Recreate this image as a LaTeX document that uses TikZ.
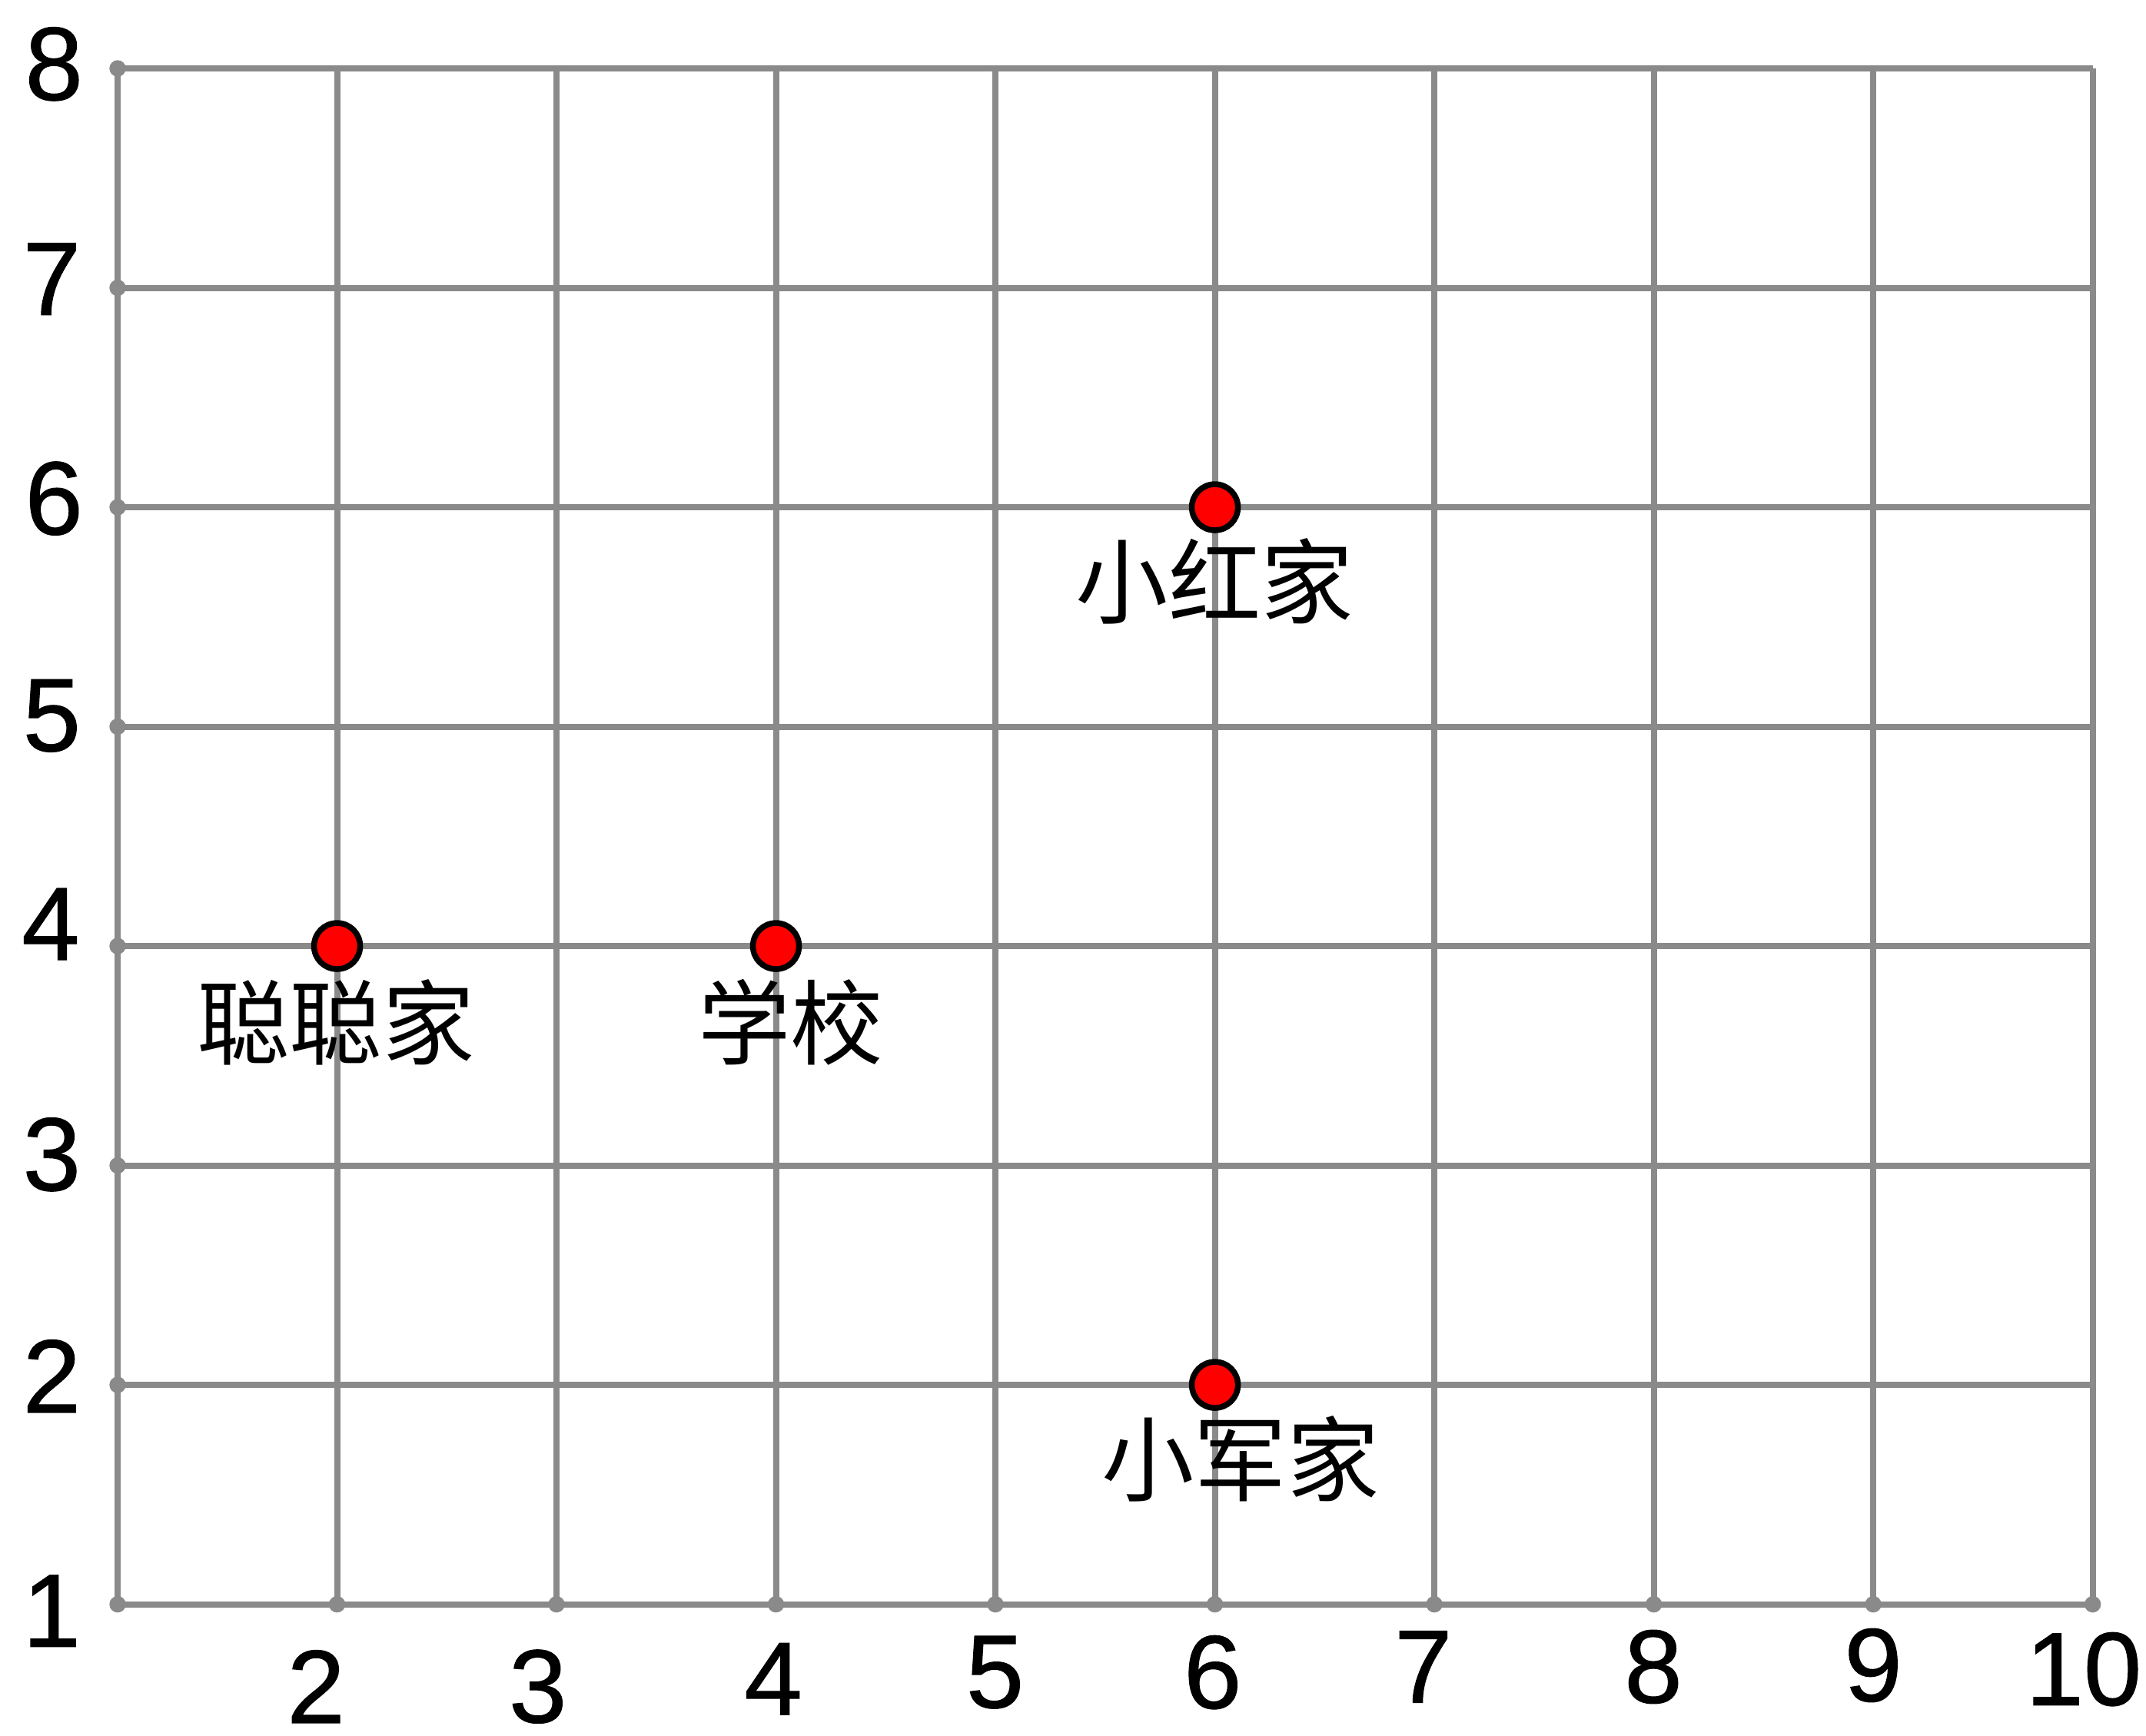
\documentclass[tikz,border=0pt]{standalone}
\usepackage{fontspec}
\setmainfont{Liberation Sans}
\newfontfamily\digitfont[FakeBold=0.8]{Liberation Sans}
\newfontfamily\cjk{Noto Sans CJK SC}
\definecolor{gridgray}{HTML}{8A8A8A}
\definecolor{dotred}{HTML}{FF0000}
\begin{document}
\begin{tikzpicture}[
  gridline/.style={draw=gridgray, line width=0.8pt},
  tickdot/.style={circle, fill=gridgray, inner sep=0pt, minimum size=0.75mm},
  place/.style={circle, draw=black, fill=dotred, line width=0.75pt, inner sep=0pt, minimum size=2.1mm},
  axlabel/.style={font=\digitfont\fontsize{13.5}{13.5}\selectfont, inner sep=0pt},
  placelabel/.style={font=\cjk\fontsize{12}{12}\selectfont, inner sep=0pt}
]
\useasboundingbox (0.464,0.403) rectangle (10.243,8.312);
% grid
\foreach \x in {1,...,10} \draw[gridline] (\x,1) -- (\x,8);
\foreach \y in {1,...,8} \draw[gridline] (1,\y) -- (10,\y);
% tick dots on the axes
\foreach \y in {1,...,8} \node[tickdot] (ty\y) at (1,\y) {};
\foreach \x in {2,...,10} \node[tickdot] (tx\x) at (\x,1) {};
% y labels
\node[axlabel] (ly8) at (0.71,8.02) {8};
\node[axlabel] (ly7) at (0.70,7.04) {7};
\node[axlabel] (ly6) at (0.71,6.04) {6};
\node[axlabel] (ly5) at (0.70,5.05) {5};
\node[axlabel] (ly4) at (0.695,4.10) {4};
\node[axlabel] (ly3) at (0.70,3.05) {3};
\node[axlabel] (ly2) at (0.70,2.04) {2};
\node[axlabel] (ly1) at (0.70,0.97) {1};
% x labels
\node[axlabel] (lx2) at (1.904,0.625) {2};
\node[axlabel] (lx3) at (2.915,0.625) {3};
\node[axlabel] (lx4) at (3.988,0.66) {4};
\node[axlabel] (lx5) at (4.998,0.69) {5};
\node[axlabel] (lx6) at (5.99,0.69) {6};
\node[axlabel] (lx7) at (6.95,0.715) {7};
\node[axlabel] (lx8) at (7.998,0.715) {8};
\node[axlabel] (lx9) at (9.0,0.722) {9};
\node[axlabel] (lx10) at (9.959,0.704) {10};
% places
\node[place] (xiaohong) at (6,6) {};
\node[place] (congcong) at (2,4) {};
\node[place] (school) at (4,4) {};
\node[place] (xiaojun) at (6,2) {};
\node[placelabel] (lxiaohong) at (6.0,5.664) {小红家};
\node[placelabel] (lcongcong) at (1.995,3.653) {聪聪家};
\node[placelabel] (lschool) at (4.068,3.653) {学校};
\node[placelabel] (lxiaojun) at (6.117,1.664) {小军家};
\end{tikzpicture}
\end{document}
